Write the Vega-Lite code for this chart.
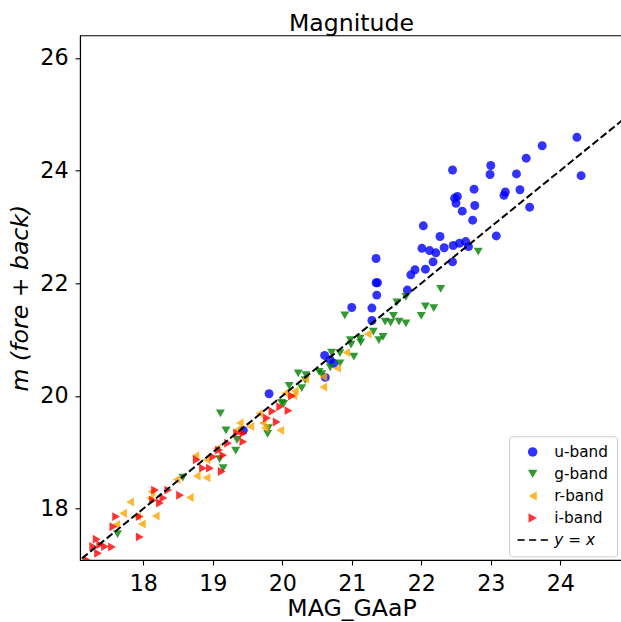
{
  "$schema": "https://vega.github.io/schema/vega-lite/v6.json",
  "width": 543,
  "height": 524.7,
  "autosize": "none",
  "padding": {"left": 80, "top": 35.3, "right": 0, "bottom": 62},
  "background": "white",
  "config": {
    "font": "DejaVu Sans",
    "view": {"stroke": "black", "strokeWidth": 1.1},
    "axis": {"grid": false, "domainColor": "black", "domainWidth": 1.1, "tickColor": "black", "tickWidth": 1.1, "tickSize": 5, "labelColor": "black", "titleColor": "black", "labelFont": "DejaVu Sans", "titleFont": "DejaVu Sans", "labelFontSize": 22.2, "titleFontSize": 23.6, "titleFontWeight": "normal", "labelPadding": 7, "format": "d"}
  },
  "title": {"text": "Magnitude", "fontSize": 23.6, "fontWeight": "normal", "font": "DejaVu Sans", "color": "black", "baseline": "alphabetic", "offset": -19.6, "anchor": "middle"},
  "layer": [
    {
      "data": {"values": [
        {"band":"u-band","mag":24.24,"m":24.59},{"band":"u-band","mag":23.74,"m":24.44},{"band":"u-band","mag":24.30,"m":23.91},{"band":"u-band","mag":23.51,"m":24.22},{"band":"u-band","mag":23.00,"m":24.09},{"band":"u-band","mag":22.45,"m":24.01},{"band":"u-band","mag":22.99,"m":23.93},{"band":"u-band","mag":23.37,"m":23.94},{"band":"u-band","mag":22.76,"m":23.67},{"band":"u-band","mag":23.21,"m":23.62},{"band":"u-band","mag":23.19,"m":23.56},{"band":"u-band","mag":23.42,"m":23.66},{"band":"u-band","mag":22.48,"m":23.51},{"band":"u-band","mag":22.52,"m":23.54},{"band":"u-band","mag":22.50,"m":23.42},{"band":"u-band","mag":22.77,"m":23.38},{"band":"u-band","mag":22.59,"m":23.28},{"band":"u-band","mag":23.56,"m":23.35},{"band":"u-band","mag":22.74,"m":23.12},{"band":"u-band","mag":22.03,"m":23.02},{"band":"u-band","mag":23.08,"m":22.84},{"band":"u-band","mag":22.27,"m":22.83},{"band":"u-band","mag":22.01,"m":22.62},{"band":"u-band","mag":22.12,"m":22.58},{"band":"u-band","mag":22.21,"m":22.54},{"band":"u-band","mag":22.33,"m":22.63},{"band":"u-band","mag":22.46,"m":22.67},{"band":"u-band","mag":22.55,"m":22.71},{"band":"u-band","mag":22.64,"m":22.74},{"band":"u-band","mag":22.68,"m":22.65},{"band":"u-band","mag":21.35,"m":22.44},{"band":"u-band","mag":22.17,"m":22.38},{"band":"u-band","mag":22.45,"m":22.38},{"band":"u-band","mag":22.06,"m":22.25},{"band":"u-band","mag":21.91,"m":22.24},{"band":"u-band","mag":21.85,"m":22.15},{"band":"u-band","mag":21.35,"m":22.01},{"band":"u-band","mag":21.37,"m":22.01},{"band":"u-band","mag":21.36,"m":21.79},{"band":"u-band","mag":21.80,"m":21.88},{"band":"u-band","mag":21.00,"m":21.57},{"band":"u-band","mag":21.29,"m":21.56},{"band":"u-band","mag":21.29,"m":21.34},{"band":"u-band","mag":20.61,"m":20.72},{"band":"u-band","mag":20.69,"m":20.64},{"band":"u-band","mag":20.74,"m":20.58},{"band":"u-band","mag":20.62,"m":20.33},{"band":"u-band","mag":19.81,"m":20.04},{"band":"u-band","mag":19.44,"m":19.39},
        {"band":"g-band","mag":22.82,"m":22.56},{"band":"g-band","mag":22.28,"m":21.90},{"band":"g-band","mag":21.65,"m":21.66},{"band":"g-band","mag":21.78,"m":21.76},{"band":"g-band","mag":22.06,"m":21.59},{"band":"g-band","mag":22.18,"m":21.56},{"band":"g-band","mag":22.00,"m":21.42},{"band":"g-band","mag":20.90,"m":21.43},{"band":"g-band","mag":21.48,"m":21.32},{"band":"g-band","mag":21.56,"m":21.30},{"band":"g-band","mag":21.68,"m":21.32},{"band":"g-band","mag":21.78,"m":21.29},{"band":"g-band","mag":21.60,"m":21.42},{"band":"g-band","mag":21.31,"m":21.14},{"band":"g-band","mag":21.45,"m":21.05},{"band":"g-band","mag":21.39,"m":20.99},{"band":"g-band","mag":21.12,"m":21.02},{"band":"g-band","mag":20.98,"m":20.99},{"band":"g-band","mag":21.13,"m":20.95},{"band":"g-band","mag":20.99,"m":20.91},{"band":"g-band","mag":20.71,"m":20.77},{"band":"g-band","mag":20.83,"m":20.76},{"band":"g-band","mag":21.03,"m":20.70},{"band":"g-band","mag":20.83,"m":20.58},{"band":"g-band","mag":20.69,"m":20.51},{"band":"g-band","mag":20.53,"m":20.43},{"band":"g-band","mag":20.23,"m":20.40},{"band":"g-band","mag":20.34,"m":20.37},{"band":"g-band","mag":20.57,"m":20.39},{"band":"g-band","mag":20.33,"m":20.28},{"band":"g-band","mag":20.10,"m":20.18},{"band":"g-band","mag":20.28,"m":20.14},{"band":"g-band","mag":19.99,"m":19.88},{"band":"g-band","mag":19.11,"m":19.69},{"band":"g-band","mag":19.19,"m":19.39},{"band":"g-band","mag":19.35,"m":19.22},{"band":"g-band","mag":19.33,"m":19.03},{"band":"g-band","mag":19.10,"m":18.88},{"band":"g-band","mag":19.15,"m":18.72},{"band":"g-band","mag":18.57,"m":18.55},{"band":"g-band","mag":19.80,"m":19.43},{"band":"g-band","mag":19.79,"m":19.33},{"band":"g-band","mag":20.02,"m":19.86},{"band":"g-band","mag":17.63,"m":17.55},
        {"band":"r-band","mag":21.23,"m":21.10},{"band":"r-band","mag":20.92,"m":20.77},{"band":"r-band","mag":20.79,"m":20.49},{"band":"r-band","mag":20.59,"m":20.34},{"band":"r-band","mag":20.59,"m":20.16},{"band":"r-band","mag":20.33,"m":20.30},{"band":"r-band","mag":20.18,"m":20.09},{"band":"r-band","mag":20.04,"m":20.05},{"band":"r-band","mag":20.16,"m":20.01},{"band":"r-band","mag":19.97,"m":19.39},{"band":"r-band","mag":19.72,"m":19.52},{"band":"r-band","mag":19.67,"m":19.69},{"band":"r-band","mag":19.54,"m":19.46},{"band":"r-band","mag":19.39,"m":19.52},{"band":"r-band","mag":19.35,"m":19.40},{"band":"r-band","mag":19.75,"m":19.43},{"band":"r-band","mag":19.06,"m":19.07},{"band":"r-band","mag":18.75,"m":18.94},{"band":"r-band","mag":18.91,"m":18.87},{"band":"r-band","mag":18.77,"m":18.58},{"band":"r-band","mag":18.91,"m":18.55},{"band":"r-band","mag":18.48,"m":18.52},{"band":"r-band","mag":18.67,"m":18.20},{"band":"r-band","mag":18.12,"m":18.30},{"band":"r-band","mag":18.10,"m":18.19},{"band":"r-band","mag":17.81,"m":18.12},{"band":"r-band","mag":17.71,"m":17.92},{"band":"r-band","mag":17.91,"m":17.86},{"band":"r-band","mag":17.98,"m":17.73},{"band":"r-band","mag":18.18,"m":17.87},{"band":"r-band","mag":17.61,"m":17.72},
        {"band":"i-band","mag":20.14,"m":20.00},{"band":"i-band","mag":19.97,"m":19.81},{"band":"i-band","mag":20.09,"m":19.74},{"band":"i-band","mag":19.86,"m":19.73},{"band":"i-band","mag":19.78,"m":19.61},{"band":"i-band","mag":19.92,"m":19.54},{"band":"i-band","mag":19.44,"m":19.34},{"band":"i-band","mag":19.35,"m":19.34},{"band":"i-band","mag":19.44,"m":19.19},{"band":"i-band","mag":19.22,"m":19.16},{"band":"i-band","mag":19.09,"m":19.04},{"band":"i-band","mag":19.15,"m":18.95},{"band":"i-band","mag":19.01,"m":18.92},{"band":"i-band","mag":18.96,"m":18.72},{"band":"i-band","mag":19.13,"m":18.66},{"band":"i-band","mag":18.86,"m":18.72},{"band":"i-band","mag":18.77,"m":18.87},{"band":"i-band","mag":18.53,"m":18.24},{"band":"i-band","mag":18.36,"m":18.33},{"band":"i-band","mag":18.29,"m":18.19},{"band":"i-band","mag":18.24,"m":18.10},{"band":"i-band","mag":18.17,"m":18.33},{"band":"i-band","mag":18.14,"m":18.15},{"band":"i-band","mag":17.95,"m":17.86},{"band":"i-band","mag":17.61,"m":17.86},{"band":"i-band","mag":17.57,"m":17.68},{"band":"i-band","mag":17.95,"m":17.50},{"band":"i-band","mag":17.33,"m":17.46},{"band":"i-band","mag":17.38,"m":17.36},{"band":"i-band","mag":17.45,"m":17.33},{"band":"i-band","mag":17.55,"m":17.32},{"band":"i-band","mag":17.35,"m":17.21},{"band":"i-band","mag":17.28,"m":17.33},{"band":"i-band","mag":17.19,"m":17.09}
      ]},
      "mark": {"type": "point", "filled": true, "opacity": 0.8, "strokeWidth": 0, "clip": true},
      "encoding": {
        "x": {"field": "mag", "type": "quantitative", "scale": {"domain": [17.09, 24.903], "nice": false, "zero": false}, "axis": {"values": [18,19,20,21,22,23,24], "title": "MAG_GAaP", "titlePadding": 2}},
        "y": {"field": "m", "type": "quantitative", "scale": {"domain": [17.09, 26.40], "nice": false, "zero": false}, "axis": {"values": [18,20,22,24,26], "title": "m (fore + back)", "titleFontStyle": "italic", "titlePadding": 7}},
        "color": {"field": "band", "type": "nominal", "scale": {"domain": ["u-band","g-band","r-band","i-band","y = x"], "range": ["#0000ff","#008000","#ffa500","#ff0000","#000000"]},
          "legend": {"title": null, "orient": "none", "legendX": 429, "legendY": 401, "padding": 8, "symbolOffset": 8, "labelFontSize": 15.3, "labelFont": "DejaVu Sans", "labelColor": "black", "symbolSize": 90, "rowPadding": 6, "labelOffset": 14, "strokeColor": "#cccccc", "fillColor": "white", "cornerRadius": 3,
            "labelFontStyle": {"expr": "datum.label === 'y = x' ? 'italic' : 'normal'"},
            "encode": {"symbols": {"update": {"opacity": {"signal": "datum.value === 'y = x' ? 1 : 0.8"}}}}}},
        "shape": {"field": "band", "type": "nominal", "scale": {"domain": ["u-band","g-band","r-band","i-band","y = x"], "range": ["circle","triangle-down","triangle-left","triangle-right","M-3.2,-0.22H-1.7V0.22H-3.2Z M-0.75,-0.22H0.75V0.22H-0.75Z M1.7,-0.22H3.2V0.22H1.7Z"]}},
        "size": {"value": 80}
      }
    },
    {
      "data": {"values": [{"mag": 17, "m": 17}, {"mag": 25, "m": 25}]},
      "mark": {"type": "line", "color": "black", "strokeWidth": 2, "strokeDash": [7.4, 3.2], "clip": true},
      "encoding": {
        "x": {"field": "mag", "type": "quantitative"},
        "y": {"field": "m", "type": "quantitative"}
      }
    }
  ]
}
